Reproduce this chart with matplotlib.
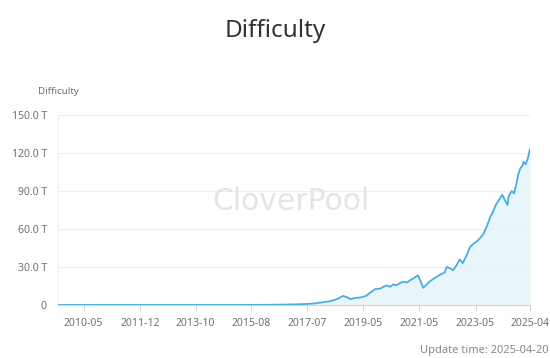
import matplotlib
matplotlib.use("Agg")
import matplotlib.pyplot as plt

# Difficulty-adjustment index (category axis) and difficulty values in T
epoch = [0, 180, 201, 222, 233, 241, 245, 255, 262, 267, 271, 274, 278, 283,
         288, 292, 297, 302, 305, 308, 311, 314, 317, 320, 323, 327, 330, 333,
         337, 339, 342, 345, 348, 353, 358, 362, 364, 367, 370, 373, 376, 379,
         383, 386, 389, 392, 395, 398, 402, 405, 407, 410, 413, 416, 419, 421,
         422, 425, 427, 429, 431, 433, 435, 436, 438, 440, 442]
difficulty = [0.0, 0.06, 0.2, 0.5, 0.8, 1.3, 1.8, 3.0, 4.9, 7.2, 6.0, 4.6, 5.5,
              5.9, 7.0, 9.5, 12.5, 13.0, 14.5, 15.5, 14.4, 16.2, 15.6, 17.2,
              18.3, 17.8, 19.8, 21.0, 23.5, 20.0, 13.5, 16.0, 18.5, 21.5, 24.0,
              25.5, 30.0, 29.0, 27.5, 31.0, 36.0, 33.0, 40.0, 46.0, 48.5, 50.0,
              52.5, 55.5, 63.0, 70.0, 73.0, 79.0, 83.0, 87.0, 82.0, 79.0, 86.0,
              90.0, 88.0, 95.0, 103.0, 108.0, 110.0, 113.0, 111.0, 116.0, 123.0]

x_tick_pos = [24, 77, 129, 181, 233, 286, 338, 391, 442]
x_tick_labels = ["2010-05", "2011-12", "2013-10", "2015-08", "2017-07",
                 "2019-05", "2021-05", "2023-05", "2025-04"]
y_ticks = [0, 30, 60, 90, 120, 150]
y_tick_labels = ["0", "30.0 T", "60.0 T", "90.0 T", "120.0 T", "150.0 T"]

plt.rcParams['font.family'] = ['Noto Sans', 'DejaVu Sans']

fig = plt.figure(figsize=(5.5, 3.58), dpi=100)
ax = fig.add_axes([58/550, 53/358, 472/550, 190/358])

line_c = "#48ade3"
ax.fill_between(epoch, difficulty, 0, color="#e8f6fb", lw=0, zorder=1)
ax.plot(epoch, difficulty, color=line_c, lw=1.3, zorder=3)

ax.set_xlim(0, 442)
ax.set_ylim(0, 150)
ax.set_yticks(y_ticks)
ax.set_yticklabels(y_tick_labels)
ax.set_xticks(x_tick_pos)
ax.set_xticklabels(x_tick_labels)
ax.grid(axis='y', color="#eeeeee", lw=0.8, zorder=0)
ax.tick_params(axis='y', length=0, pad=8, labelsize=7.5, labelcolor="#6e7079")
ax.tick_params(axis='x', length=4, width=0.8, color="#d5d5d5", pad=5,
               labelsize=7.5, labelcolor="#6e7079")
for s in ['top', 'right']:
    ax.spines[s].set_visible(False)
ax.spines['left'].set_color("#eeeeee")
ax.spines['left'].set_linewidth(0.8)
ax.spines['bottom'].set_color("#d5d5d5")
ax.spines['bottom'].set_linewidth(0.8)

fig.text(0.5, 1 - 31/358, "Difficulty", ha='center', va='center',
         fontsize=17.5, color="#333333")
fig.text(58/550, 1 - 91/358, "Difficulty", ha='center', va='center',
         fontsize=7, color="#6e7079")
fig.text(548/550, 1 - 350/358, "Update time: 2025-04-20", ha='right',
         va='center', fontsize=8, color="#8a8a8a")
ax.text(0.494, 0.545, "CloverPool", transform=ax.transAxes, ha='center',
        va='center', fontsize=21.5, color="#e4e4e4", zorder=2,
        family='DejaVu Sans')

fig.savefig("out.png", dpi=100)
